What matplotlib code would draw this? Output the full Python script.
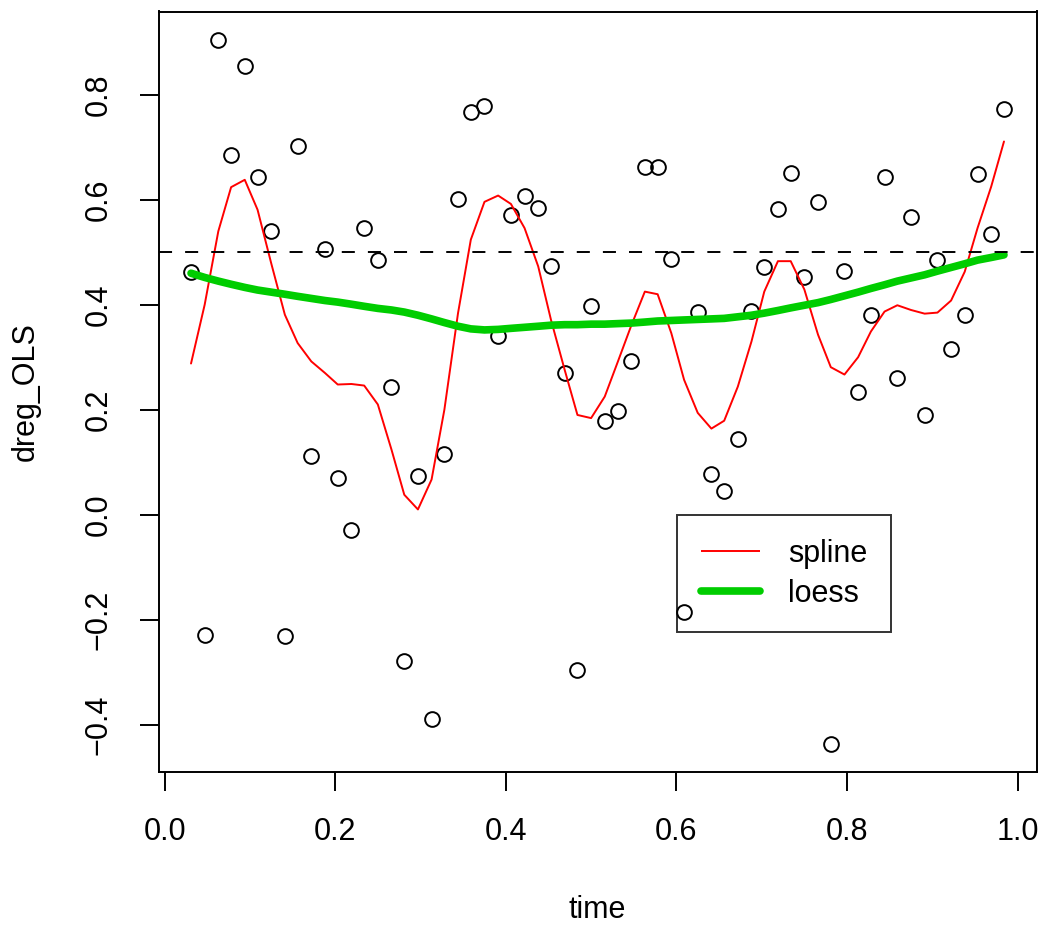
import matplotlib
matplotlib.use("Agg")
import matplotlib.pyplot as plt
from matplotlib.lines import Line2D

plt.rcParams['font.family'] = ['Liberation Sans', 'DejaVu Sans']
plt.rcParams['font.size'] = 22
plt.rcParams['lines.scale_dashes'] = False

# ---- data ----
time = [0.031, 0.047, 0.063, 0.078, 0.094, 0.109, 0.125, 0.141, 0.156, 0.172,
        0.188, 0.203, 0.219, 0.234, 0.250, 0.266, 0.281, 0.297, 0.313, 0.328,
        0.344, 0.359, 0.375, 0.391, 0.406, 0.422, 0.438, 0.453, 0.469, 0.484,
        0.500, 0.516, 0.531, 0.547, 0.563, 0.578, 0.594, 0.609, 0.625, 0.641,
        0.656, 0.672, 0.688, 0.703, 0.719, 0.734, 0.750, 0.766, 0.781, 0.797,
        0.813, 0.828, 0.844, 0.859, 0.875, 0.891, 0.906, 0.922, 0.938, 0.953,
        0.969, 0.984]

dreg_OLS = [0.463, -0.229, 0.905, 0.686, 0.854, 0.644, 0.540, -0.232, 0.702, 0.112,
            0.506, 0.070, -0.029, 0.547, 0.486, 0.244, -0.278, 0.074, -0.390, 0.116,
            0.601, 0.768, 0.779, 0.340, 0.571, 0.608, 0.584, 0.474, 0.269, -0.295,
            0.398, 0.178, 0.197, 0.292, 0.662, 0.662, 0.487, -0.186, 0.387, 0.077,
            0.046, 0.145, 0.388, 0.471, 0.583, 0.651, 0.453, 0.596, -0.436, 0.465,
            0.233, 0.380, 0.644, 0.260, 0.567, 0.189, 0.486, 0.316, 0.380, 0.650,
            0.535, 0.773]

spline_fit = [0.288, 0.400, 0.540, 0.624, 0.638, 0.581, 0.479, 0.381, 0.327, 0.292,
              0.270, 0.248, 0.249, 0.246, 0.210, 0.124, 0.038, 0.010, 0.067, 0.200,
              0.384, 0.524, 0.596, 0.608, 0.592, 0.546, 0.473, 0.371, 0.276, 0.190,
              0.184, 0.225, 0.290, 0.360, 0.425, 0.420, 0.346, 0.257, 0.194, 0.164,
              0.179, 0.244, 0.330, 0.425, 0.483, 0.483, 0.429, 0.343, 0.281, 0.267,
              0.300, 0.349, 0.387, 0.399, 0.390, 0.383, 0.385, 0.408, 0.463, 0.546,
              0.625, 0.711]

loess_fit = [0.460, 0.452, 0.445, 0.439, 0.433, 0.428, 0.424, 0.420, 0.416, 0.412,
             0.408, 0.405, 0.401, 0.397, 0.393, 0.390, 0.386, 0.380, 0.373, 0.366,
             0.359, 0.354, 0.352, 0.353, 0.355, 0.357, 0.359, 0.361, 0.362, 0.362,
             0.363, 0.363, 0.364, 0.365, 0.367, 0.369, 0.370, 0.371, 0.372, 0.373,
             0.374, 0.377, 0.380, 0.384, 0.389, 0.394, 0.399, 0.404, 0.410, 0.417,
             0.424, 0.431, 0.438, 0.445, 0.451, 0.457, 0.464, 0.471, 0.478, 0.485,
             0.490, 0.495]

ref_level = 0.5
x_ticks = [0.0, 0.2, 0.4, 0.6, 0.8, 1.0]
y_ticks = [-0.4, -0.2, 0.0, 0.2, 0.4, 0.6, 0.8]
legend_labels = ['spline', 'loess']

# ---- figure ----
W, H = 1047, 926
fig = plt.figure(figsize=(W / 100, H / 100), dpi=100)
left, right, top, bottom = 158.5, 1036.5, 11.5, 771.7
ax = fig.add_axes([left / W, (H - bottom) / H, (right - left) / W, (bottom - top) / H])

lw = 1.4
ax.plot(time, dreg_OLS, linestyle='none', marker='o', markersize=10.6,
        markerfacecolor='none', markeredgecolor='black', markeredgewidth=lw, zorder=3)
ax.plot(time, spline_fit, color='#FF0000', lw=lw, solid_joinstyle='round',
        solid_capstyle='round', zorder=4)
ax.plot(time, loess_fit, color='#00CD00', lw=5.5, solid_joinstyle='round',
        solid_capstyle='round', zorder=5)
ax.axhline(ref_level, color='black', lw=lw, dashes=(9.4, 9.4), zorder=6)

# R-style axis extents (4% padding)
xr = max(time) - min(time)
yr = max(dreg_OLS) - min(dreg_OLS)
ax.set_xlim(min(time) - 0.04 * xr, max(time) + 0.04 * xr)
ax.set_ylim(min(dreg_OLS) - 0.04 * yr, max(dreg_OLS) + 0.04 * yr)

ax.set_xticks(x_ticks)
ax.set_xticklabels([f"{v:.1f}" for v in x_ticks])
ax.set_yticks(y_ticks)
ax.set_yticklabels([f"{v:.1f}".replace('-', '\u2212') for v in y_ticks],
                   rotation=90, va='center')
ax.tick_params(direction='out', length=13.7, width=lw, pad=18.7, labelsize=22,
               colors='black')
for s in ax.spines.values():
    s.set_linewidth(lw)
    s.set_color('black')

ax.set_xlabel('time', fontsize=22)
ax.xaxis.set_label_coords(0.5, -0.162)
ax.set_ylabel('dreg_OLS', fontsize=22)
ax.yaxis.set_label_coords(-0.134, 0.5)

handles = [Line2D([], [], color='#FF0000', lw=lw, solid_capstyle='butt'),
           Line2D([], [], color='#00CD00', lw=5.5, solid_capstyle='round')]
leg = ax.legend(handles, legend_labels, loc='upper left',
                bbox_to_anchor=((677 - left) / (right - left), (bottom - 515) / (bottom - top)),
                borderaxespad=0, frameon=True, fancybox=False, edgecolor='black',
                facecolor='none', framealpha=None, borderpad=0.77, labelspacing=0.34,
                handlelength=1.96, handletextpad=0.9, fontsize=22)
leg.get_frame().set_linewidth(lw)
leg.set_zorder(2)

fig.savefig('out.png', dpi=100)
